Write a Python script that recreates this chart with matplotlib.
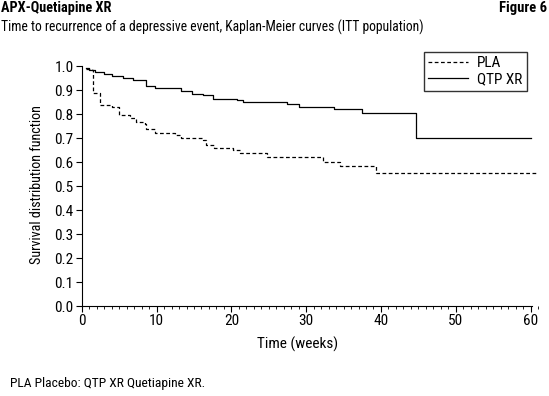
import matplotlib.pyplot as plt
from matplotlib import font_manager
from matplotlib.ticker import MultipleLocator

# narrow sans face, like the original typesetting, if one is installed
names = {f.name for f in font_manager.fontManager.ttflist}
preferred = ["Roboto Condensed", "PT Sans Narrow", "Liberation Sans Narrow"]
plt.rcParams["font.family"] = [n for n in preferred if n in names][:1] + ["Liberation Sans", "DejaVu Sans"]

# Kaplan-Meier steps (weeks, survival)
qtp_t = [0.5, 0.9, 1.7, 3.0, 4.0, 5.5, 6.9, 8.6, 9.8, 12.7, 13.3, 14.8, 16.2, 17.6,
         20.7, 21.6, 27.4, 29.1, 33.7, 37.5, 44.7, 60.0]
qtp_s = [0.993, 0.985, 0.976, 0.968, 0.96, 0.95, 0.942, 0.918, 0.911, 0.907, 0.896, 0.886,
         0.879, 0.865, 0.858, 0.849, 0.842, 0.830, 0.821, 0.803, 0.701, 0.701]

pla_t = [0.5, 1.3, 1.5, 2.4, 4.0, 5.0, 6.4, 7.3, 8.4, 8.6, 9.8, 12.4, 13.3, 16.2, 16.6,
         17.7, 20.2, 21.1, 23.3, 24.8, 32.3, 34.5, 39.4, 60.8]
pla_s = [0.99, 0.983, 0.89, 0.838, 0.83, 0.796, 0.782, 0.768, 0.761, 0.74, 0.72, 0.713,
         0.699, 0.692, 0.671, 0.657, 0.65, 0.64, 0.636, 0.622, 0.599, 0.585, 0.553, 0.553]

fig = plt.figure(figsize=(5.49, 3.96), dpi=100)
ax = fig.add_axes([0.149, 0.227, 0.831, 0.612])

ax.plot(pla_t, pla_s, drawstyle="steps-post", color="black", lw=0.9,
        linestyle=(0, (3, 2)), label="PLA", clip_on=False)
ax.plot(qtp_t, qtp_s, drawstyle="steps-post", color="black", lw=0.9,
        label="QTP XR", clip_on=False)

ax.set_xlim(0, 61)
ax.set_ylim(0, 1.01)
ax.spines["top"].set_visible(False)
ax.spines["right"].set_visible(False)
ax.spines["bottom"].set_bounds(0, 60.2)
ax.spines["left"].set_bounds(0, 1.0)
ax.xaxis.set_major_locator(MultipleLocator(10))
ax.xaxis.set_minor_locator(MultipleLocator(1))
ax.tick_params(axis="both", which="major", length=4, labelsize=11, pad=2)
ax.tick_params(axis="x", which="minor", length=2)
ax.set_yticks([i / 10 for i in range(11)])
ax.set_yticklabels([f"{i / 10:.1f}" for i in range(11)])
ax.set_xlabel("Time (weeks)", fontsize=11)
ax.xaxis.set_label_coords(0.474, -0.125)
ax.set_ylabel("Survival distribution function", fontsize=10.2, labelpad=7)

ax.legend(loc="upper right", bbox_to_anchor=(0.96, 0.869), bbox_transform=fig.transFigure,
          borderaxespad=0, frameon=True, fancybox=False, edgecolor="black", fontsize=11,
          handlelength=2.6, borderpad=0.3, labelspacing=0.1, handletextpad=0.6)

fig.text(0.002, 0.979, "APX-Quetiapine XR", fontsize=10.3, fontweight="bold", va="center")
fig.text(0.996, 0.979, "Figure 6", fontsize=10.5, fontweight="bold", va="center", ha="right")
fig.text(0.002, 0.932, "Time to recurrence of a depressive event, Kaplan-Meier curves (ITT population)",
         fontsize=9.8, va="center")
fig.text(0.018, 0.032, "PLA Placebo: QTP XR Quetiapine XR.", fontsize=9.7, va="center")

fig.savefig("out.png", dpi=100)
